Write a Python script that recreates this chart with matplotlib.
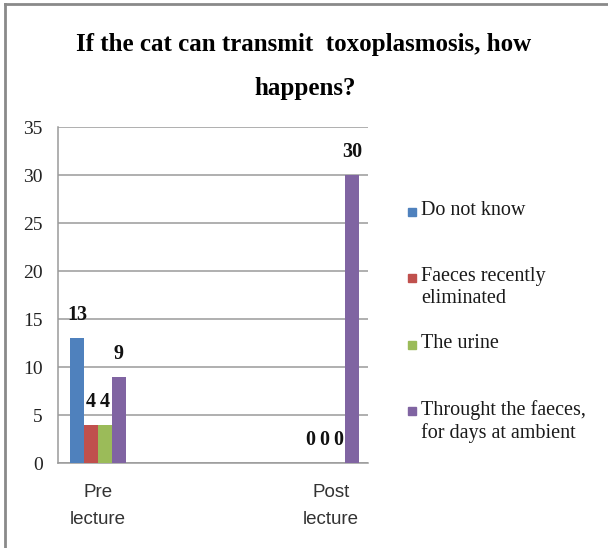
import matplotlib
matplotlib.use("Agg")
import matplotlib.pyplot as plt
from matplotlib.patches import Rectangle
from matplotlib.lines import Line2D
import numpy as np

# Survey answers before and after the lecture
categories = ["Pre\nlecture", "Post\nlecture"]
series_names = [
    "Do not know",
    "Faeces recently\neliminated",
    "The urine",
    "Throught the faeces,\nfor days at ambient",
]
do_not_know = [13, 0]
faeces_recent = [4, 0]
urine = [4, 0]
faeces_days = [9, 30]
series_values = [do_not_know, faeces_recent, urine, faeces_days]
colors = ["#4F81BD", "#C0504D", "#9BBB59", "#8064A2"]
y_ticks = [0, 5, 10, 15, 20, 25, 30, 35]

W, H = 608, 548
fig = plt.figure(figsize=(W / 100, H / 100), dpi=100)
fig.patch.set_facecolor("white")

serif = ["Liberation Serif", "DejaVu Serif"]
sans = ["Liberation Sans", "DejaVu Sans"]

# outer chart frame (left and top edges)
fig.add_artist(Line2D([5 / W, 5 / W], [0, 1 - 4 / H], transform=fig.transFigure,
                      color="#8a8a8a", lw=2))
fig.add_artist(Line2D([5 / W, 1], [1 - 4 / H, 1 - 4 / H], transform=fig.transFigure,
                      color="#8a8a8a", lw=2))

# plot area
left, right, top, bottom = 58, 368, 127, 463
ax = fig.add_axes([left / W, 1 - bottom / H, (right - left) / W, (bottom - top) / H])

x = np.arange(len(categories))
bw = 0.060
offsets = (np.arange(len(series_values)) - 1.5) * bw
for vals, off, col, name in zip(series_values, offsets, colors, series_names):
    ax.bar(x + off, vals, width=bw, color=col, label=name, zorder=3)
    for xi, v in zip(x + off, vals):
        ax.annotate(str(v), (xi, v), xytext=(0, 16.5), textcoords="offset points",
                    ha="center", va="center", fontsize=14.5, fontweight="bold",
                    family=serif, color="#111111", zorder=4)

ax.set_xlim(-0.1717, 1.159)
ax.set_ylim(0, 35)
ax.set_yticks(y_ticks)
ax.set_yticklabels([str(t) for t in y_ticks], family=serif, fontsize=14,
                   color="#222222")
ax.set_xticks(x)
ax.set_xticklabels(categories, family=sans, fontsize=13.5, color="#333333",
                   linespacing=1.75)
ax.tick_params(axis="y", length=0, pad=11)
ax.tick_params(axis="x", length=0, pad=15)
ax.yaxis.grid(True, color="#9a9a9a", lw=1.1, zorder=0)
ax.set_axisbelow(True)
for s in ["top", "right"]:
    ax.spines[s].set_visible(False)
for s in ["left", "bottom"]:
    ax.spines[s].set_color("#9a9a9a")
    ax.spines[s].set_linewidth(1.1)

# title
fig.text(304 / W, 1 - 45 / H, "If the cat can transmit  toxoplasmosis, how",
         ha="center", va="center", fontsize=18, fontweight="bold", family=serif)
fig.text(305 / W, 1 - 88 / H, "happens?",
         ha="center", va="center", fontsize=18, fontweight="bold", family=serif)

# legend entries
legend_y = [212, 278, 345, 411]
for name, col, yy in zip(series_names, colors, legend_y):
    fig.add_artist(Rectangle((408 / W, 1 - (yy + 4) / H), 8 / W, 8 / H,
                             transform=fig.transFigure, color=col))
    fig.text(421 / W, 1 - (yy - 11) / H, name, ha="left", va="top",
             fontsize=14.5, family=serif, color="#1a1a1a", linespacing=1.2)

fig.savefig("out.png", dpi=100, facecolor="white")
